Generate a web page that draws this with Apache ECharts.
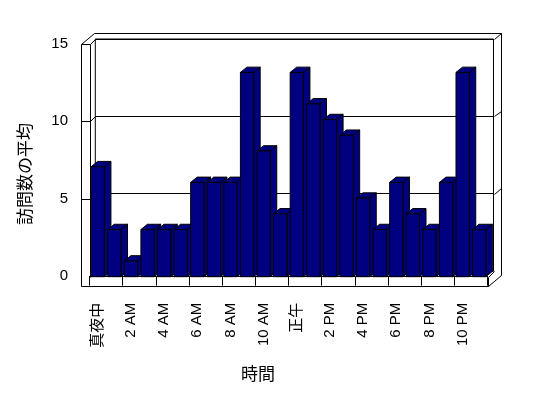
<!DOCTYPE html>
<html>
<head>
<meta charset="utf-8">
<title>訪問数の平均</title>
<script src="https://cdn.jsdelivr.net/npm/echarts@6/dist/echarts.min.js"></script>
<style>
  html, body { margin: 0; padding: 0; background: #fff; }
  #main { width: 548px; height: 398px; }
</style>
</head>
<body>
<div id="main"></div>
<script>
// data
const hours = [
  '真夜中', '1 AM', '2 AM', '3 AM', '4 AM', '5 AM', '6 AM', '7 AM', '8 AM', '9 AM', '10 AM', '11 AM',
  '正午', '1 PM', '2 PM', '3 PM', '4 PM', '5 PM', '6 PM', '7 PM', '8 PM', '9 PM', '10 PM', '11 PM'
]
const visits = [7, 3, 1, 3, 3, 3, 6, 6, 6, 13, 8, 4, 13, 11, 10, 9, 5, 3, 6, 4, 3, 6, 13, 3]
const yTicks = [0, 5, 10, 15]
const wallLines = [5, 10, 15]

// layout (pixels)
const W = 548, H = 398
const BAR = { left: 89.5, right: 60.5, top: 41, bottom: 121.3 }   // plane of the bar fronts
const BACK = { left: 95.3, right: 54.5, top: 39, bottom: 127 }    // back wall, inner face
const FRONT = { left: 81, top: 44, bottom: 122 }                  // front edge of left wall
const FLOOR_TOP = H - BAR.bottom
const FLOOR_BOT = 285.7
const OUT_TOP = 33.3
const OUT_RIGHT = 501
const DX = 6.5, DY = -5.3    // bar depth
const NAVY = '#000080'
const FONT = '"Liberation Sans", "Noto Sans CJK JP", sans-serif'

const chart = echarts.init(document.getElementById('main'))

const hiddenX = (gridIndex) => ({
  type: 'value', gridIndex, show: false, min: 0, max: 1
})

const option = {
  backgroundColor: '#fff',
  animation: false,
  grid: [
    { left: BAR.left, right: BAR.right, top: BAR.top, bottom: BAR.bottom },
    { left: BACK.left, right: BACK.right, top: BACK.top, bottom: BACK.bottom,
      show: true, borderColor: '#000', borderWidth: 1, backgroundColor: 'transparent' },
    { left: FRONT.left, width: 10, top: FRONT.top, bottom: FRONT.bottom }
  ],
  xAxis: [
    {
      type: 'category',
      gridIndex: 0,
      data: hours,
      axisLine: { show: true, lineStyle: { color: '#000', width: 1 } },
      axisTick: { show: true, length: 9, lineStyle: { color: '#000' } },
      axisLabel: {
        interval: 1,
        rotate: 90,
        margin: 26,
        color: '#000',
        fontFamily: FONT,
        fontSize: 15
      },
      splitLine: { show: false }
    },
    hiddenX(1),
    hiddenX(2)
  ],
  yAxis: [
    { type: 'value', gridIndex: 0, min: 0, max: 15, show: false },
    {
      type: 'value', gridIndex: 1, min: 0, max: 15, interval: 5,
      axisLine: { show: false }, axisTick: { show: false }, axisLabel: { show: false },
      splitLine: { show: true, lineStyle: { color: '#000', width: 1 } }
    },
    {
      type: 'value', gridIndex: 2, min: 0, max: 15, interval: 5,
      axisLine: { show: false }, axisTick: { show: false },
      splitLine: { show: false },
      axisLabel: {
        customValues: yTicks,
        margin: 13,
        color: '#000',
        fontFamily: FONT,
        fontSize: 15
      }
    }
  ],
  series: [
    {
      type: 'custom',
      xAxisIndex: 0,
      yAxisIndex: 0,
      z: 3,
      data: visits.map((v, i) => [i, v]),
      renderItem: (params, api) => {
        const top = api.coord([api.value(0), api.value(1)])
        const base = api.coord([api.value(0), 0])
        const w = api.size([1, 0])[0] * 0.8
        const x0 = top[0] - w / 2
        const x1 = x0 + w
        const yt = top[1]
        const yb = base[1]
        const style = { fill: NAVY, stroke: '#000', lineWidth: 1 }
        return {
          type: 'group',
          children: [
            { type: 'polygon', shape: { points: [[x1, yt], [x1 + DX, yt + DY], [x1 + DX, yb + DY], [x1, yb]] }, style },
            { type: 'polygon', shape: { points: [[x0, yt], [x0 + DX, yt + DY], [x1 + DX, yt + DY], [x1, yt]] }, style },
            { type: 'rect', shape: { x: x0, y: yt, width: w, height: yb - yt }, style }
          ]
        }
      }
    }
  ]
}

chart.setOption(option)

// walls and floor, placed from the axes
const fy = v => chart.convertToPixel({ yAxisIndex: 2 }, v)
const by = v => chart.convertToPixel({ yAxisIndex: 1 }, v)
const IX = BAR.left
const FR = W - BAR.right
const BX = BACK.left
const BR = W - BACK.right
const FX = FRONT.left

const segs = [
  [[FX, fy(15)], [FX, FLOOR_BOT]],
  [[FX, FLOOR_BOT], [FR, FLOOR_BOT]],
  [[FR, FLOOR_TOP], [FR, FLOOR_BOT]],
  [[IX, fy(15)], [IX, FLOOR_TOP]],
  [[FX, fy(15)], [BX - 1, OUT_TOP]],
  [[BX - 1, OUT_TOP], [OUT_RIGHT, OUT_TOP]],
  [[OUT_RIGHT, OUT_TOP], [OUT_RIGHT, by(0) + 3.5]],
  [[FR, FLOOR_BOT], [OUT_RIGHT, by(0) + 3.5]],
  [[FR, FLOOR_TOP], [BR, by(0)]]
]
wallLines.forEach(v => {
  segs.push([[FX, fy(v)], [IX, fy(v)]])
  segs.push([[IX, fy(v)], [BX, by(v)]])
  segs.push([[BR, by(v)], [OUT_RIGHT, by(v) - 5.7]])
})

const crisp = p => [Math.round(p[0]) + 0.5, Math.round(p[1]) + 0.5]

chart.setOption({
  graphic: [
    ...segs.map(s => ({
      type: 'line',
      z: 1,
      silent: true,
      shape: { x1: crisp(s[0])[0], y1: crisp(s[0])[1], x2: crisp(s[1])[0], y2: crisp(s[1])[1] },
      style: { stroke: '#000', lineWidth: 1 }
    })),
    {
      type: 'text',
      z: 5,
      x: 258,
      y: 375,
      style: {
        text: '時間',
        fill: '#000',
        font: '17px ' + FONT,
        textAlign: 'center',
        textVerticalAlign: 'middle'
      }
    },
    {
      type: 'text',
      z: 5,
      x: 26.5,
      y: 174,
      rotation: Math.PI / 2,
      style: {
        text: '訪問数の平均',
        fill: '#000',
        font: '17px ' + FONT,
        textAlign: 'center',
        textVerticalAlign: 'middle'
      }
    }
  ]
})

window.addEventListener('resize', () => {
  chart.resize()
})
</script>
</body>
</html>
